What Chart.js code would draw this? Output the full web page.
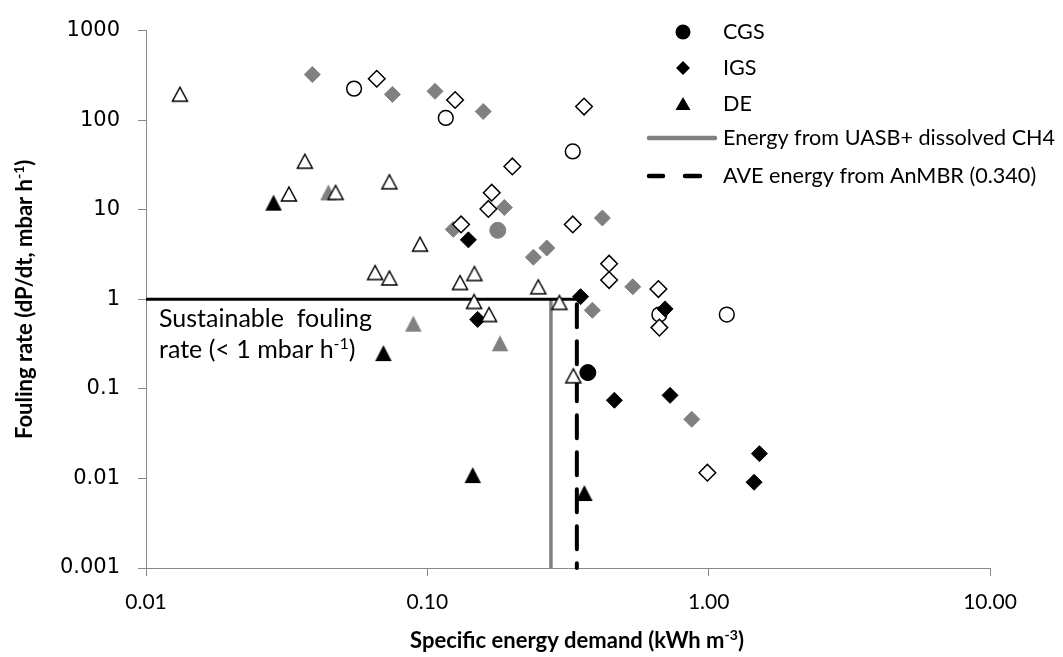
<!DOCTYPE html>
<html>
<head>
<meta charset="utf-8">
<script src="https://cdn.jsdelivr.net/npm/chart.js@4/dist/chart.umd.min.js"></script>
<style>
html,body{margin:0;padding:0;background:#fff;}
canvas{display:block;}
</style>
</head>
<body>
<canvas id="c" width="1063" height="657"></canvas>
<script>
// ---------------- data ----------------
// CGS series
const cgsOpenX  = [0.0549, 0.1163, 0.3288, 0.668, 1.16];
const cgsOpenY  = [225, 106, 44.8, 0.676, 0.676];
const cgsGrayX  = [0.178];
const cgsGrayY  = [5.89];
const cgsBlackX = [0.372];
const cgsBlackY = [0.152];
// IGS series
const igsOpenX  = [0.0661, 0.1255, 0.3606, 0.2005, 0.1694, 0.1648, 0.1318, 0.3288, 0.4426, 0.4426, 0.6628, 0.668, 0.9895];
const igsOpenY  = [290, 168, 142, 30.4, 15.5, 10.2, 6.85, 6.85, 2.50, 1.64, 1.30, 0.483, 0.0116];
const igsGrayX  = [0.039, 0.0751, 0.1065, 0.158, 0.1878, 0.1237, 0.419, 0.2382, 0.2659, 0.5372, 0.386, 0.871];
const igsGrayY  = [323, 194, 210, 125, 10.6, 6.04, 8.09, 2.95, 3.74, 1.38, 0.754, 0.0457];
const igsBlackX = [0.1399, 0.151, 0.3505, 0.70, 0.4623, 0.729, 1.515, 1.45];
const igsBlackY = [4.61, 0.596, 1.07, 0.781, 0.0746, 0.0846, 0.0189, 0.00907];
// DE series
const deOpenX   = [0.0132, 0.0367, 0.0733, 0.0322, 0.0472, 0.0942, 0.0652, 0.0733, 0.1307, 0.147, 0.1466, 0.1657, 0.248, 0.2948, 0.3304];
const deOpenY   = [195, 34.8, 20.5, 15.0, 15.6, 4.13, 1.99, 1.73, 1.54, 1.94, 0.946, 0.676, 1.38, 0.923, 0.140];
const deGrayX   = [0.0445, 0.0892, 0.1813];
const deGrayY   = [15.6, 0.535, 0.323];
const deBlackX  = [0.0284, 0.0698, 0.145, 0.3614];
const deBlackY  = [12.0, 0.251, 0.0109, 0.00687];
// reference lines
const sustainableRate = 1;       // mbar/h
const uasbEnergy = 0.275;        // kWh/m3
const aveEnergy = 0.340;         // kWh/m3
// axes
const xTickValues = [0.01, 0.1, 1, 10];
const xTickLabels = ['0.01', '0.10', '1.00', '10.00'];
const yTickValues = [0.001, 0.01, 0.1, 1, 10, 100, 1000];
const yTickLabels = ['0.001', '0.01', '0.1', '1', '10', '100', '1000'];
const legendLabels = ['CGS', 'IGS', 'DE', 'Energy from UASB+ dissolved CH4', 'AVE energy from AnMBR (0.340)'];
const xTitle = [['Specific energy demand (kWh m', false], ['-3', true], [')', false]];
const yTitle = [['Fouling rate (dP/dt, mbar h', false], ['-1', true], [')', false]];
const noteLine1 = [['Sustainable  fouling', false]];
const noteLine2 = [['rate (< 1 mbar h', false], ['-1', true], [')', false]];

// ---------------- styling helpers ----------------
const GRAY = '#808080';
const AXIS = '#868686';
const FONT = 'Lato';
function pts(xs, ys) { return xs.map((x, i) => ({ x: x, y: ys[i] })); }
function triCanvas(fill, stroke, lw, w, h) {
  const S = 24, c = document.createElement('canvas');
  c.width = S; c.height = S;
  const g = c.getContext('2d');
  g.beginPath();
  g.moveTo(S / 2, S / 2 - h / 2);
  g.lineTo(S / 2 + w / 2, S / 2 + h / 2);
  g.lineTo(S / 2 - w / 2, S / 2 + h / 2);
  g.closePath();
  g.fillStyle = fill; g.fill();
  if (lw) { g.lineWidth = lw; g.strokeStyle = stroke; g.stroke(); }
  return c;
}
const triOpen = triCanvas('#fff', '#000', 1.5, 15, 14);
const triGray = triCanvas(GRAY, GRAY, 0, 16.5, 16);
const triBlack = triCanvas('#000', '#000', 0, 16.5, 16);

function marker(label, data, style, fill, stroke, bw, r) {
  return {
    type: 'scatter', label: label, data: data, pointStyle: style,
    pointRadius: r, pointHoverRadius: r, backgroundColor: fill, borderColor: stroke,
    pointBorderWidth: bw, borderWidth: bw, pointHoverBorderWidth: bw, showLine: false, order: 1
  };
}
function refLine(label, data, color, width, dash, offset) {
  return {
    type: 'scatter', label: label, data: data, showLine: true, pointRadius: 0, pointHoverRadius: 0,
    borderColor: color, backgroundColor: color, borderWidth: width, borderDash: dash || [],
    borderDashOffset: offset || 0, borderCapStyle: dash ? 'round' : 'butt', fill: false, order: 2, clip: false
  };
}

function drawRich(ctx, parts, x, y, size, weight, align) {
  const sup = Math.round(size * 0.62);
  const widths = parts.map(p => { ctx.font = weight + ' ' + (p[1] ? sup : size) + 'px ' + FONT; return ctx.measureText(p[0]).width; });
  const total = widths.reduce((a, b) => a + b, 0);
  let cx = align === 'center' ? x - total / 2 : x;
  ctx.textAlign = 'left';
  parts.forEach((p, i) => {
    ctx.font = weight + ' ' + (p[1] ? sup : size) + 'px ' + FONT;
    ctx.fillText(p[0], cx, p[1] ? y - size * 0.36 : y);
    cx += widths[i];
  });
}

const decor = {
  id: 'decor',
  afterDraw(chart) {
    const ctx = chart.ctx;
    const xs = chart.scales.x, ys = chart.scales.y;
    ctx.save();
    ctx.fillStyle = '#000';
    ctx.textBaseline = 'alphabetic';
    // axis titles
    drawRich(ctx, xTitle, (xs.left + xs.right) / 2 + 9, 648, 22, 'bold', 'center');
    ctx.save();
    ctx.translate(32, (ys.top + ys.bottom) / 2);
    ctx.rotate(-Math.PI / 2);
    drawRich(ctx, yTitle, 0, 0, 22, 'bold', 'center');
    ctx.restore();
    // note text
    drawRich(ctx, noteLine1, 159, 327, 25, 'normal', 'left');
    drawRich(ctx, noteLine2, 159, 358, 25, 'normal', 'left');
    // legend
    const lx = 683, tx = 723;
    const rows = [32, 68, 104, 138, 176];
    ctx.fillStyle = '#000';
    ctx.beginPath(); ctx.arc(lx, rows[0], 7.5, 0, Math.PI * 2); ctx.fill();
    ctx.beginPath(); ctx.moveTo(lx, rows[1] - 7); ctx.lineTo(lx + 7, rows[1]); ctx.lineTo(lx, rows[1] + 7); ctx.lineTo(lx - 7, rows[1]); ctx.closePath(); ctx.fill();
    ctx.beginPath(); ctx.moveTo(lx, rows[2] - 7); ctx.lineTo(lx + 7.5, rows[2] + 6); ctx.lineTo(lx - 7.5, rows[2] + 6); ctx.closePath(); ctx.fill();
    ctx.lineCap = 'round';
    ctx.lineWidth = 4.5; ctx.strokeStyle = GRAY;
    ctx.beginPath(); ctx.moveTo(649, rows[3]); ctx.lineTo(715, rows[3]); ctx.stroke();
    ctx.strokeStyle = '#000';
    ctx.beginPath(); ctx.moveTo(649, rows[4]); ctx.lineTo(663, rows[4]); ctx.moveTo(685, rows[4]); ctx.lineTo(700, rows[4]); ctx.stroke();
    ctx.fillStyle = '#000';
    legendLabels.forEach((t, i) => { drawRich(ctx, [[t, false]], tx, rows[i] + 7, 21.6, 'normal', 'left'); });
    ctx.restore();
  }
};

function findIdx(arr, v) { return arr.findIndex(a => Math.abs(Math.log10(a / v)) < 1e-6); }

new Chart(document.getElementById('c'), {
  type: 'scatter',
  data: {
    datasets: [
      marker('DE', pts(deOpenX, deOpenY), triOpen, '#fff', '#000', 1.5, 8),
      marker('DE', pts(deBlackX, deBlackY), triBlack, '#000', '#000', 0, 8),
      marker('DE', pts(deGrayX, deGrayY), triGray, GRAY, GRAY, 0, 8),
      marker('IGS', pts(igsBlackX, igsBlackY), 'rectRot', '#000', '#000', 1, 8),
      marker('IGS', pts(igsOpenX, igsOpenY), 'rectRot', '#fff', '#000', 1.5, 8.3),
      marker('IGS', pts(igsGrayX, igsGrayY), 'rectRot', GRAY, GRAY, 1, 8),
      marker('CGS', pts(cgsBlackX, cgsBlackY), 'circle', '#000', '#000', 1, 8),
      marker('CGS', pts(cgsOpenX, cgsOpenY), 'circle', '#fff', '#000', 1.5, 7.4),
      marker('CGS', pts(cgsGrayX, cgsGrayY), 'circle', GRAY, GRAY, 1, 8),
      refLine('Sustainable', [{ x: 0.01, y: sustainableRate }, { x: aveEnergy, y: sustainableRate }], '#000', 3),
      refLine(legendLabels[3], [{ x: uasbEnergy, y: sustainableRate }, { x: uasbEnergy, y: 0.001 }], GRAY, 3.5),
      refLine(legendLabels[4], [{ x: aveEnergy, y: sustainableRate }, { x: aveEnergy, y: 0.001 }], '#000', 4, [23, 14], -5)
    ]
  },
  options: {
    responsive: false,
    devicePixelRatio: 1,
    animation: false,
    events: [],
    layout: { padding: { left: 0, right: 73, top: 21, bottom: 0 } },
    plugins: { legend: { display: false }, tooltip: { enabled: false }, title: { display: false } },
    scales: {
      x: {
        type: 'logarithmic', position: 'bottom', min: 0.01, max: 10,
        afterBuildTicks: s => { s.ticks = xTickValues.map(v => ({ value: v, major: true })); },
        afterFit: s => { s.height = 89; },
        ticks: {
          autoSkip: false, maxRotation: 0, minRotation: 0, padding: 14, color: '#000',
          font: { family: FONT, size: 21 },
          callback: v => { const i = findIdx(xTickValues, v); return i >= 0 ? xTickLabels[i] : ''; }
        },
        grid: { drawOnChartArea: false, drawTicks: true, tickLength: 8, color: AXIS, tickColor: AXIS, lineWidth: 1 },
        border: { display: true, color: AXIS, width: 1 }
      },
      y: {
        type: 'logarithmic', position: 'left', min: 0.001, max: 1000,
        afterBuildTicks: s => { s.ticks = yTickValues.map(v => ({ value: v, major: true })); },
        afterFit: s => { s.width = 146; },
        ticks: {
          autoSkip: false, padding: 18, color: '#000',
          font: { family: 'DejaVu Sans', size: 21 },
          callback: v => { const i = findIdx(yTickValues, v); return i >= 0 ? yTickLabels[i] : ''; }
        },
        grid: { drawOnChartArea: false, drawTicks: true, tickLength: 8, color: AXIS, tickColor: AXIS, lineWidth: 1 },
        border: { display: true, color: AXIS, width: 1 }
      }
    }
  },
  plugins: [decor]
});
</script>
</body>
</html>
